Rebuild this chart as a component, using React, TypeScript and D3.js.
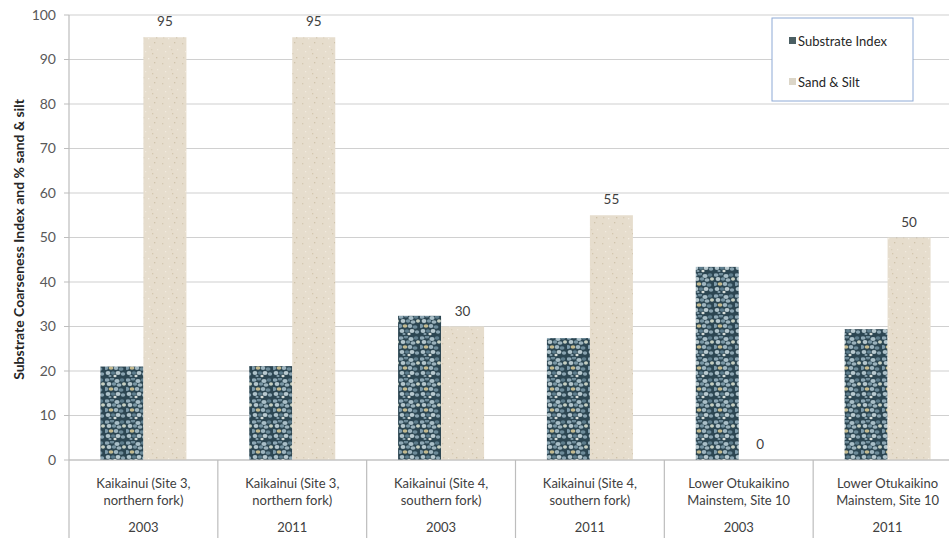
import React from "react";
import * as d3 from "d3";

const sites = [
  ["Kaikainui (Site 3,", "northern fork)"],
  ["Kaikainui (Site 3,", "northern fork)"],
  ["Kaikainui (Site 4,", "southern fork)"],
  ["Kaikainui (Site 4,", "southern fork)"],
  ["Lower Otukaikino", "Mainstem, Site 10"],
  ["Lower Otukaikino", "Mainstem, Site 10"],
];
const years = ["2003", "2011", "2003", "2011", "2003", "2011"];
const substrateIndex = [21, 21.1, 32.4, 27.4, 43.4, 29.4];
const sandSilt = [95, 95, 30, 55, 0, 50];
const yTicks = [0, 10, 20, 30, 40, 50, 60, 70, 80, 90, 100];
const seriesNames = ["Substrate Index", "Sand & Silt"];

const W = 949;
const H = 538;
const left = 69;
const right = 962;
const top = 15;
const bottom = 460;
const FONT = "Lato, 'Open Sans', sans-serif";

// deterministic pebble shapes for texture
const pebbles: [number, number, number, number, string][] = [
  [2, 2, 2.6, 1.8, "#8fa9b6"], [7, 1, 2.2, 1.6, "#6f8c9a"], [12, 3, 2.6, 1.9, "#a9bfc8"],
  [17, 2, 2.3, 1.7, "#5e7d8c"], [4, 6, 2.4, 2.0, "#b5c7cd"], [9, 6, 2.2, 1.8, "#7a97a5"],
  [14, 7, 2.5, 1.8, "#9bb2bc"], [19, 6, 2.0, 1.8, "#c6cfc2"], [1, 11, 2.2, 1.9, "#7f9cab"],
  [6, 11, 2.4, 1.7, "#c2b98f"], [11, 11, 2.3, 2.0, "#9fb6c0"], [16, 12, 2.5, 1.8, "#6d8b99"],
  [3, 16, 2.4, 1.9, "#aec2ca"], [8, 16, 2.1, 1.7, "#5f7f8f"], [13, 16, 2.5, 1.9, "#b9cad0"],
  [18, 17, 2.2, 1.8, "#8aa4b1"], [10, 19, 1.6, 1.2, "#d5dcd8"], [5, 19, 1.6, 1.1, "#86a1ae"],
];
const specks: [number, number, string][] = [
  [2, 3, "#d4c8b1"], [9, 6, "#f3ede2"], [14, 2, "#cfc2aa"], [5, 11, "#f2ebe0"],
  [12, 13, "#d3c6ae"], [17, 9, "#efe8dc"], [3, 17, "#d7cbb5"], [16, 17, "#cdbfa6"],
  [8, 18, "#f4eee4"], [11, 9, "#dacfba"],
];

export default function App() {
  const x0 = d3.scaleBand<number>().domain(d3.range(sites.length)).range([left, right]);
  const y = d3.scaleLinear().domain([0, 100]).range([bottom, top]);
  const barW = 43;
  const fills = ["url(#pebble)", "url(#sand)"];
  const series = [substrateIndex, sandSilt];

  return (
    <svg width={W} height={H} style={{ position: "absolute", left: 0, top: 0, background: "#fff" }}>
      <defs>
        <pattern id="pebble" width={21} height={21} patternUnits="userSpaceOnUse">
          <rect width={21} height={21} fill="#2c4652" />
          {pebbles.map((p, i) => (
            <ellipse key={i} cx={p[0]} cy={p[1]} rx={p[2]} ry={p[3]} fill={p[4]} />
          ))}
        </pattern>
        <pattern id="sand" width={20} height={20} patternUnits="userSpaceOnUse">
          <rect width={20} height={20} fill="#e6ddcd" />
          {specks.map((s, i) => (
            <rect key={i} x={s[0]} y={s[1]} width={1.3} height={1.3} fill={s[2]} />
          ))}
        </pattern>
      </defs>

      {/* gridlines */}
      {yTicks.map((t) => (
        <line key={t} x1={left} x2={W} y1={y(t)} y2={y(t)} stroke="#d0d0d0" strokeWidth={1.2} />
      ))}
      {/* y tick labels and ticks */}
      {yTicks.map((t) => (
        <g key={"t" + t}>
          <line x1={left - 5} x2={left} y1={y(t)} y2={y(t)} stroke="#bdbdbd" />
          <text x={56} y={y(t)} dy="0.35em" textAnchor="end" fontFamily={FONT} fontSize={14} fill="#595959">
            {t}
          </text>
        </g>
      ))}
      {/* y axis line */}
      <line x1={left} x2={left} y1={top} y2={H} stroke="#bdbdbd" strokeWidth={1.2} />

      {/* bars */}
      {series.map((vals, si) =>
        vals.map((v, i) => {
          const cx = (x0(i) as number) + x0.bandwidth() / 2;
          const bx = cx - barW + si * barW;
          return (
            <rect key={si + "-" + i} x={bx} y={y(v)} width={barW} height={y(0) - y(v)} fill={fills[si]} />
          );
        })
      )}
      {/* data labels for sand & silt */}
      {sandSilt.map((v, i) => {
        const cx = (x0(i) as number) + x0.bandwidth() / 2 + barW / 2;
        return (
          <text key={"l" + i} x={cx} y={y(v) - 11} textAnchor="middle" fontFamily={FONT} fontSize={13.5} fill="#404040">
            {v}
          </text>
        );
      })}

      {/* x axis table */}
      <line x1={left} x2={W} y1={bottom} y2={bottom} stroke="#bdbdbd" strokeWidth={1.2} />
      {sites.map((s, i) => {
        const bx = x0(i) as number;
        const cx = bx + x0.bandwidth() / 2;
        return (
          <g key={"c" + i}>
            <line x1={bx + x0.bandwidth()} x2={bx + x0.bandwidth()} y1={bottom} y2={H} stroke="#bdbdbd" strokeWidth={1.2} />
            <text x={cx} y={483} dy="0.35em" textAnchor="middle" fontFamily={FONT} fontSize={13} fill="#404040">
              {s[0]}
            </text>
            <text x={cx} y={500} dy="0.35em" textAnchor="middle" fontFamily={FONT} fontSize={13} fill="#404040">
              {s[1]}
            </text>
            <text x={cx} y={527} dy="0.35em" textAnchor="middle" fontFamily={FONT} fontSize={13} fill="#404040">
              {years[i]}
            </text>
          </g>
        );
      })}

      {/* y title */}
      <text
        transform={`translate(19,${(top + bottom) / 2 + 2}) rotate(-90)`}
        textAnchor="middle"
        dy="0.35em"
        fontFamily={FONT}
        fontSize={14}
        fontWeight="bold"
        fill="#262626"
      >
        Substrate Coarseness Index and % sand &amp; silt
      </text>

      {/* legend */}
      <rect x={772} y={18} width={141} height={83} fill="#fff" stroke="#8eaad6" strokeWidth={1} />
      {seriesNames.map((n, i) => (
        <g key={n}>
          <rect x={789} y={37 + i * 41} width={7} height={7} fill={i === 0 ? "#4b5f63" : "#dcd6c8"} />
          <text x={798} y={41 + i * 41} dy="0.35em" fontFamily={FONT} fontSize={13} fill="#262626">
            {n}
          </text>
        </g>
      ))}
    </svg>
  );
}
